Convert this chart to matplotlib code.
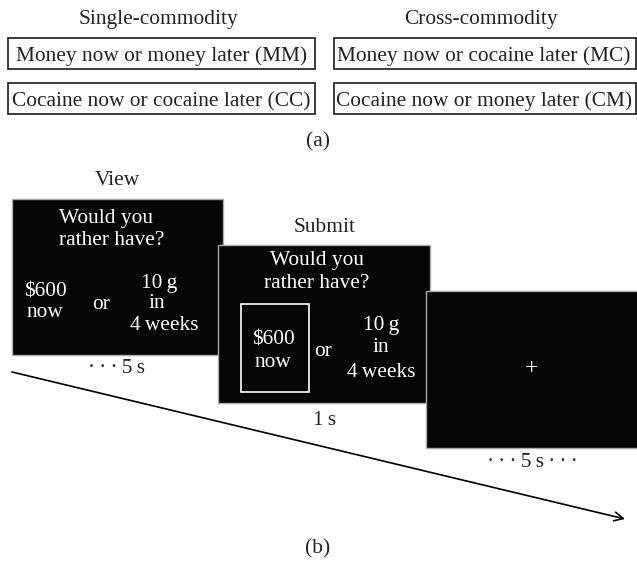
import matplotlib
matplotlib.use("Agg")
import matplotlib.pyplot as plt
from matplotlib.patches import Rectangle

# Panel (a) texts
group_titles = ["Single-commodity", "Cross-commodity"]
single_conditions = ["Money now or money later (MM)", "Cocaine now or cocaine later (CC)"]
cross_conditions = ["Money now or cocaine later (MC)", "Cocaine now or money later (CM)"]

# Panel (b) texts
screen_titles = ["View", "Submit"]
question_lines = ["Would you", "rather have?"]
now_option = ["$600", "now"]
later_option = ["10\u2009g", "in", "4\u2009weeks"]
durations = ["\u00b7\u2009\u00b7\u2009\u00b7\u20095\u2009s", "1\u2009s",
             "\u00b7\u2009\u00b7\u2009\u00b7\u20095\u2009s\u2009\u00b7\u2009\u00b7\u2009\u00b7"]
panel_labels = ["(a)", "(b)"]

W, H = 637, 564
fig = plt.figure(figsize=(W / 100, H / 100), dpi=100)
ax = fig.add_axes([0, 0, 1, 1])
ax.set_xlim(0, W)
ax.set_ylim(H, 0)
ax.axis("off")

FONT = ["Liberation Serif", "DejaVu Serif"]
FS = 15.4
dark = "#222222"


def txt(x, y, s, color=dark, size=FS, z=3):
    ax.text(x, y, s, ha="center", va="baseline", fontsize=size,
            color=color, family=FONT, zorder=z)


# ---- panel (a) ----
txt(158, 24, group_titles[0])
txt(481, 24, group_titles[1])
for i, (left, right) in enumerate(zip(single_conditions, cross_conditions)):
    top = 38 + i * 45
    ax.add_patch(Rectangle((8, top), 307, 31, fill=False, ec="#1a1a1a", lw=1.2))
    ax.add_patch(Rectangle((334, top), 302, 31, fill=False, ec="#1a1a1a", lw=1.2))
    txt(161.5, top + 23, left)
    txt(484, top + 23, right)
txt(318, 146, panel_labels[0])

# ---- panel (b) ----
# timeline arrow
ax.annotate("", xy=(625, 519), xytext=(12, 372),
            arrowprops=dict(arrowstyle="->", lw=1.2, color="black",
                            mutation_scale=16, shrinkA=0, shrinkB=0))

# View screen
ax.add_patch(Rectangle((12, 199), 211, 156, fc="#050505", ec="#aaaaaa", lw=1, zorder=2))
txt(117, 185, screen_titles[0])
for s, x, y in zip(question_lines, [106, 112], [223, 245]):
    txt(x, y, s, color="white")
for s, y in zip(now_option, [297, 317]):
    txt(45, y, s, color="white")
txt(101, 309, "or", color="white")
for s, x, y in zip(later_option, [159, 157, 164], [288, 308, 330]):
    txt(x, y, s, color="white")
txt(117, 373, durations[0])

# Submit screen
ax.add_patch(Rectangle((218, 245), 212, 158, fc="#050505", ec="#aaaaaa", lw=1, zorder=4))
txt(325, 232, screen_titles[1])
for s, y in zip(question_lines, [265, 288]):
    txt(317, y, s, color="white", z=5)
ax.add_patch(Rectangle((241, 304), 68, 88, fill=False, ec="white", lw=1.2, zorder=5))
for s, y in zip(now_option, [344, 367]):
    txt(273, y, s, color="white", z=5)
txt(323, 356, "or", color="white", z=5)
for s, y in zip(later_option, [330, 352, 377]):
    txt(381, y, s, color="white", z=5)
txt(325, 425, durations[1])

# Fixation screen
ax.add_patch(Rectangle((426, 291), 212, 157, fc="#050505", ec="#aaaaaa", lw=1, zorder=6))
ax.text(532, 369, "+", ha="center", va="center", fontsize=17, color="white",
        family=FONT, zorder=7)
txt(532, 467, durations[2])

txt(318, 553, panel_labels[1])

fig.savefig("out.png", dpi=100, facecolor="white")
